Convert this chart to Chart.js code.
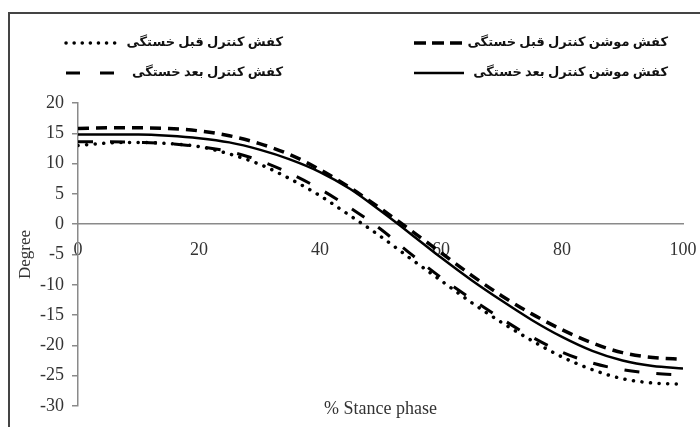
<!DOCTYPE html>
<html>
<head>
  <script src="https://cdn.jsdelivr.net/npm/chart.js"></script>
  <style>
    body {
      margin: 0;
      background: #fff;
    }
    #wrap {
      position: relative;
      width: 700px;
      height: 427px;
      overflow: hidden;
    }
    #frame {
      position: absolute;
      left: 8px;
      top: 12px;
      width: 800px;
      height: 500px;
      border-left: 2px solid #444;
      border-top: 2px solid #444;
    }
    canvas {
      position: absolute;
      left: 0;
      top: 0;
    }
  </style>
</head>
<body>
  <div id="wrap">
    <div id="frame"></div>
    <canvas id="chart" width="700" height="427"></canvas>
  </div>

  <script>
    // % stance phase
    var stance = [0, 5, 10, 15, 20, 25, 30, 35, 40, 45, 50, 55, 60, 65, 70, 75, 80, 85, 90, 95, 100];

    // degree
    var controlBefore = [13.0, 13.4, 13.5, 13.3, 12.8, 11.6, 9.9, 7.5, 4.7, 1.4, -2.0, -5.7, -9.3, -12.9, -16.2, -19.2, -21.9, -24.0, -25.5, -26.2, -26.4];
    var motionBefore = [15.8, 15.9, 15.9, 15.8, 15.4, 14.6, 13.3, 11.5, 9.0, 6.0, 2.6, -1.0, -4.7, -8.4, -11.8, -14.8, -17.4, -19.6, -21.2, -22.0, -22.3];
    var controlAfter = [13.6, 13.6, 13.5, 13.3, 12.8, 12.0, 10.5, 8.4, 5.8, 2.7, -0.8, -4.9, -8.8, -12.3, -15.6, -18.6, -21.1, -22.9, -24.0, -24.6, -24.9];
    var motionAfter = [14.8, 14.8, 14.8, 14.6, 14.2, 13.5, 12.3, 10.7, 8.6, 5.8, 2.2, -1.6, -5.5, -9.2, -12.6, -15.8, -18.6, -20.9, -22.5, -23.4, -23.8];

    var seriesNames = [
      "کفش کنترل قبل خستگی",
      "کفش موشن کنترل قبل خستگی",
      "کفش کنترل بعد خستگی",
      "کفش موشن کنترل بعد خستگی"
    ];

    var xTitle = "% Stance phase";
    var yTitle = "Degree";

    function points(values) {
      var out = [];
      for (var i = 0; i < stance.length; i++) {
        out.push({ x: stance[i], y: values[i] });
      }
      return out;
    }

    var serif = "'Liberation Serif', 'Times New Roman', serif";

    // 2x2 legend, text right aligned, sample to its left
    var legendSlots = [
      { right: 283, y: 43, sampleLeft: 66 },
      { right: 668, y: 43, sampleLeft: 414 },
      { right: 283, y: 73, sampleLeft: 66 },
      { right: 668, y: 73, sampleLeft: 414 }
    ];

    var extras = {
      id: "extras",
      afterDraw: function (chart) {
        var ctx = chart.ctx;
        var area = chart.chartArea;
        ctx.save();

        // x axis title under the plot
        ctx.fillStyle = "#333";
        ctx.font = "18px " + serif;
        ctx.textAlign = "center";
        ctx.textBaseline = "middle";
        ctx.fillText(xTitle, (area.left + area.right) / 2, area.bottom + 3);

        // legend
        chart.data.datasets.forEach(function (ds, i) {
          var slot = legendSlots[i];
          ctx.save();
          ctx.strokeStyle = ds.borderColor;
          ctx.lineWidth = ds.borderWidth;
          ctx.lineCap = ds.borderCapStyle || "butt";
          ctx.setLineDash(ds.legendDash || ds.borderDash || []);
          ctx.beginPath();
          ctx.moveTo(slot.sampleLeft, slot.y);
          ctx.lineTo(slot.sampleLeft + 50, slot.y);
          ctx.stroke();
          ctx.restore();

          ctx.save();
          ctx.font = "bold 13px " + serif + ", 'DejaVu Sans'";
          ctx.fillStyle = "#111";
          ctx.direction = "rtl";
          ctx.textAlign = "right";
          ctx.textBaseline = "middle";
          ctx.fillText(ds.label, slot.right, slot.y);
          ctx.restore();
        });
        ctx.restore();
      }
    };

    var ctx = document.getElementById("chart").getContext("2d");
    var chart = new Chart(ctx, {
      type: "line",
      data: {
        datasets: [{
          label: seriesNames[0],
          data: points(controlBefore),
          borderColor: "#000",
          borderWidth: 3.5,
          borderDash: [0.1, 8.5],
          borderCapStyle: "round",
          legendDash: [0.1, 8],
          pointRadius: 0,
          cubicInterpolationMode: "monotone",
          fill: false
        }, {
          label: seriesNames[1],
          data: points(motionBefore),
          borderColor: "#000",
          borderWidth: 3.5,
          borderDash: [11, 7],
          legendDash: [12, 6],
          pointRadius: 0,
          cubicInterpolationMode: "monotone",
          fill: false
        }, {
          label: seriesNames[2],
          data: points(controlAfter),
          borderColor: "#000",
          borderWidth: 3,
          borderDash: [15, 17],
          legendDash: [14, 20],
          pointRadius: 0,
          cubicInterpolationMode: "monotone",
          fill: false
        }, {
          label: seriesNames[3],
          data: points(motionAfter),
          borderColor: "#000",
          borderWidth: 2.5,
          pointRadius: 0,
          cubicInterpolationMode: "monotone",
          fill: false
        }]
      },
      options: {
        responsive: false,
        animation: false,
        layout: {
          padding: { left: 10, top: 103, right: 17, bottom: 21 }
        },
        plugins: {
          legend: { display: false },
          tooltip: { enabled: false }
        },
        scales: {
          x: {
            type: "linear",
            position: { y: 0 },
            min: 0,
            max: 100,
            grid: { display: false },
            border: { display: true, color: "#8a8a8a", width: 1.5 },
            ticks: {
              stepSize: 20,
              padding: 7,
              color: "#333",
              font: { family: serif, size: 18 }
            },
            afterFit: function (scale) {
              // let the "100" label hang past the plot edge
              scale.paddingLeft = 0;
              scale.paddingRight = 0;
            }
          },
          y: {
            min: -30,
            max: 20,
            grid: {
              drawOnChartArea: false,
              drawTicks: true,
              tickLength: 6,
              color: "#8a8a8a",
              lineWidth: 1.5
            },
            border: { display: true, color: "#8a8a8a", width: 1.5 },
            ticks: {
              stepSize: 5,
              padding: 8,
              color: "#333",
              font: { family: serif, size: 18 }
            },
            title: {
              display: true,
              text: yTitle,
              color: "#333",
              padding: { top: 5, bottom: 0 },
              font: { family: serif, size: 17 }
            },
            afterFit: function (scale) {
              scale.width = 68;
            }
          }
        }
      },
      plugins: [extras]
    });
  </script>
</body>
</html>
